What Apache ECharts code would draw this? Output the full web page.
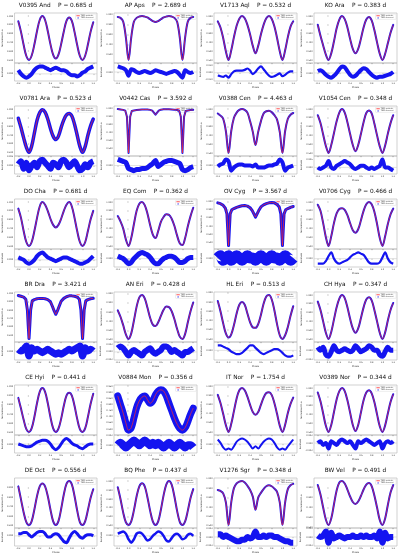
<!DOCTYPE html>
<html>
<head>
<meta charset="utf-8">
<script src="https://cdn.jsdelivr.net/npm/echarts@6/dist/echarts.min.js"></script>
<style>
html, body { margin: 0; padding: 0; background: #fff; }
#main { width: 400px; height: 559px; }
</style>
</head>
<body>
<div id="main"></div>
<script>
// phase grids
const PHASE = [-0.2,-0.15,-0.1,-0.05,0,0.05,0.1,0.15,0.2,0.25,0.3,0.35,0.4,0.45,0.5,0.55,0.6,0.65,0.7,0.75,0.8,0.85,0.9,0.95,1,1.05,1.1,1.15,1.2];
// denser around the eclipses, for the detached systems
const PHASE_ECL = [-0.2,-0.15,-0.1,-0.06,-0.03,-0.015,0,0.015,0.03,0.06,0.1,0.15,0.2,0.25,0.3,0.35,0.4,0.44,0.47,0.5,0.53,0.56,0.6,0.65,0.7,0.75,0.8,0.85,0.9,0.94,0.97,0.985,1,1.015,1.03,1.06,1.1,1.15,1.2];
const PHASE_TICKS = [-0.2,0,0.2,0.4,0.6,0.8,1.0,1.2];

const NAMES = ['V0395 And','AP Aps','V1713 Aql','KO Ara','V0781 Ara','V0442 Cas','V0388 Cen','V1054 Cen',
  'DO Cha','EQ Com','OV Cyg','V0706 Cyg','BR Dra','AN Eri','HL Eri','CH Hya',
  'CE Hyi','V0884 Mon','IT Nor','V0389 Nor','DE Oct','BQ Phe','V1276 Sgr','BW Vel'];
const PERIODS = ['0.685','2.689','0.532','0.383','0.523','3.592','4.463','0.348',
  '0.681','0.362','3.567','0.466','3.421','0.428','0.513','0.347',
  '0.441','0.356','1.754','0.344','0.556','0.437','0.348','0.491'];
const LEGEND_NAMES = ['TESS synthetic', 'TESS observed'];

// normalized flux, model curve
const FLUX_V0395_AND = [0.94,0.82,0.67,0.545,0.50,0.55,0.675,0.83,0.955,1.0,0.955,0.83,0.68,0.56,0.515,0.56,0.68,0.825,0.945,0.985,0.945,0.82,0.67,0.545,0.50,0.55,0.675,0.82,0.93];
const FLUX_AP_APS = [0.978,0.969,0.933,0.775,0.55,0.775,0.933,0.969,0.982,0.987,0.982,0.973,0.955,0.937,0.928,0.937,0.955,0.973,0.982,0.987,0.982,0.969,0.933,0.775,0.55,0.775,0.933,0.969,0.978];
const FLUX_V1713_AQL = [0.94,0.87,0.75,0.60,0.50,0.61,0.76,0.89,0.97,1.0,0.975,0.90,0.79,0.66,0.575,0.66,0.79,0.90,0.975,1.0,0.97,0.885,0.75,0.60,0.50,0.61,0.76,0.88,0.94];
const FLUX_KO_ARA = [0.90,0.775,0.665,0.56,0.50,0.575,0.71,0.86,0.96,1.0,0.965,0.87,0.74,0.625,0.575,0.625,0.74,0.87,0.96,0.99,0.95,0.84,0.70,0.57,0.50,0.57,0.69,0.81,0.90];
const FLUX_V0781_ARA = [0.90,0.79,0.67,0.56,0.50,0.575,0.725,0.875,0.965,1.0,0.97,0.89,0.78,0.69,0.65,0.69,0.79,0.88,0.94,0.955,0.925,0.83,0.70,0.57,0.50,0.57,0.70,0.81,0.89];
const FLUX_V0442_CAS = [0.995,0.99,0.985,0.975,0.90,0.68,0.45,0.68,0.90,0.972,0.978,0.982,0.986,0.989,0.99,0.99,0.985,0.975,0.95,0.925,0.95,0.975,0.988,0.992,0.993,0.993,0.991,0.988,0.983,0.975,0.90,0.68,0.45,0.68,0.90,0.972,0.978,0.982,0.986];
const FLUX_V0388_CEN = [0.95,0.925,0.89,0.75,0.50,0.75,0.90,0.96,0.99,1.0,0.99,0.96,0.86,0.74,0.59,0.74,0.86,0.95,0.975,0.98,0.965,0.93,0.88,0.74,0.50,0.75,0.89,0.935,0.955];
const FLUX_V1054_CEN = [0.93,0.84,0.71,0.58,0.50,0.59,0.725,0.86,0.96,1.0,0.96,0.85,0.715,0.59,0.52,0.59,0.715,0.85,0.955,0.985,0.95,0.835,0.70,0.575,0.50,0.585,0.72,0.84,0.93];
const FLUX_DO_CHA = [0.925,0.82,0.67,0.545,0.50,0.545,0.67,0.82,0.95,1.0,0.97,0.90,0.81,0.74,0.71,0.74,0.81,0.90,0.97,1.0,0.95,0.82,0.67,0.545,0.50,0.545,0.67,0.80,0.90];
const FLUX_EQ_COM = [0.84,0.78,0.70,0.575,0.50,0.59,0.75,0.90,0.98,1.0,0.965,0.87,0.74,0.63,0.59,0.67,0.775,0.83,0.86,0.855,0.81,0.73,0.62,0.53,0.51,0.59,0.725,0.84,0.935];
const FLUX_OV_CYG = [0.985,0.975,0.955,0.92,0.85,0.66,0.46,0.66,0.85,0.90,0.915,0.93,0.94,0.95,0.952,0.945,0.925,0.89,0.85,0.81,0.85,0.89,0.935,0.96,0.975,0.985,0.99,0.985,0.965,0.935,0.85,0.66,0.46,0.66,0.85,0.90,0.915,0.93,0.94];
const FLUX_V0706_CYG = [0.97,0.90,0.76,0.60,0.50,0.61,0.76,0.87,0.92,0.93,0.91,0.85,0.76,0.68,0.65,0.69,0.79,0.90,0.975,1.0,0.975,0.89,0.75,0.59,0.50,0.61,0.75,0.86,0.925];
const FLUX_BR_DRA = [0.975,0.965,0.955,0.93,0.80,0.62,0.46,0.62,0.80,0.91,0.925,0.935,0.94,0.94,0.935,0.925,0.90,0.84,0.79,0.75,0.79,0.84,0.905,0.94,0.96,0.97,0.97,0.965,0.955,0.93,0.80,0.62,0.46,0.62,0.80,0.91,0.925,0.935,0.94];
const FLUX_AN_ERI = [0.82,0.75,0.66,0.56,0.51,0.57,0.71,0.86,0.96,0.985,0.95,0.85,0.74,0.665,0.65,0.69,0.76,0.825,0.86,0.855,0.81,0.725,0.62,0.535,0.51,0.565,0.69,0.81,0.905];
const FLUX_HL_ERI = [0.91,0.80,0.67,0.56,0.515,0.55,0.65,0.775,0.87,0.90,0.87,0.775,0.68,0.625,0.62,0.66,0.76,0.88,0.96,0.975,0.93,0.81,0.66,0.54,0.50,0.54,0.63,0.75,0.855];
const FLUX_CH_HYA = [0.925,0.83,0.70,0.57,0.50,0.58,0.72,0.86,0.96,1.0,0.965,0.86,0.73,0.62,0.57,0.62,0.735,0.86,0.95,0.975,0.94,0.83,0.70,0.57,0.50,0.575,0.71,0.83,0.91];
const FLUX_CE_HYI = [0.875,0.76,0.64,0.54,0.51,0.55,0.67,0.82,0.94,0.98,0.94,0.82,0.67,0.55,0.51,0.545,0.65,0.79,0.90,0.93,0.90,0.79,0.65,0.54,0.51,0.55,0.67,0.81,0.92];
const FLUX_V0884_MON = [0.87,0.80,0.73,0.65,0.59,0.61,0.69,0.775,0.83,0.86,0.87,0.84,0.81,0.83,0.88,0.91,0.92,0.91,0.87,0.81,0.75,0.69,0.64,0.605,0.59,0.61,0.66,0.72,0.77];
const FLUX_IT_NOR = [0.91,0.82,0.70,0.575,0.50,0.59,0.73,0.87,0.96,0.985,0.96,0.89,0.80,0.72,0.69,0.72,0.80,0.88,0.93,0.94,0.91,0.82,0.70,0.57,0.50,0.58,0.71,0.81,0.88];
const FLUX_V0389_NOR = [0.95,0.85,0.71,0.57,0.50,0.58,0.725,0.87,0.965,1.0,0.965,0.86,0.72,0.58,0.51,0.58,0.72,0.86,0.95,0.975,0.94,0.84,0.70,0.565,0.50,0.575,0.71,0.84,0.93];
const FLUX_DE_OCT = [0.91,0.775,0.64,0.54,0.51,0.55,0.67,0.81,0.91,0.94,0.91,0.81,0.67,0.55,0.51,0.55,0.675,0.825,0.935,0.965,0.93,0.81,0.66,0.54,0.51,0.55,0.665,0.79,0.88];
const FLUX_BQ_PHE = [0.93,0.80,0.65,0.54,0.51,0.55,0.675,0.83,0.94,0.975,0.94,0.82,0.67,0.55,0.51,0.55,0.68,0.84,0.96,1.0,0.96,0.83,0.67,0.545,0.51,0.55,0.67,0.81,0.91];
const FLUX_V1276_SGR = [0.88,0.87,0.845,0.75,0.51,0.75,0.90,0.95,0.97,0.975,0.96,0.925,0.88,0.81,0.67,0.80,0.85,0.89,0.92,0.93,0.92,0.895,0.86,0.75,0.51,0.75,0.89,0.93,0.945];
const FLUX_BW_VEL = [0.925,0.83,0.70,0.58,0.525,0.59,0.73,0.87,0.95,0.965,0.94,0.88,0.81,0.755,0.735,0.76,0.815,0.88,0.93,0.945,0.915,0.82,0.70,0.575,0.525,0.59,0.725,0.85,0.925];

// residuals (observed - model), on PHASE
const RES_V0395_AND = [0.003,0.000,-0.002,-0.003,-0.002,0.000,0.003,0.005,0.006,0.006,0.005,0.004,0.003,0.004,0.005,0.004,0.003,0.003,0.002,0.000,-0.001,-0.001,-0.002,-0.001,0.001,0.002,0.004,0.005,0.006];
const RES_AP_APS = [0.003,0.0025,0.002,0.001,-0.002,0.0015,0.001,0.000,-0.0005,0.000,0.0005,0.000,-0.0005,0.000,0.001,0.0005,0.000,-0.0005,-0.001,-0.0005,0.000,0.0005,0.000,-0.0015,-0.003,0.001,0.000,-0.0005,0.000];
const RES_V1713_AQL = [-0.004,-0.005,-0.006,-0.004,-0.007,-0.002,0.002,0.003,0.003,0.003,0.004,0.006,0.003,-0.002,0.001,0.006,0.009,0.005,0.000,-0.004,-0.006,-0.005,-0.003,-0.001,-0.005,-0.003,0.000,0.002,0.002];
const RES_KO_ARA = [0.002,0.003,0.001,-0.002,-0.004,-0.005,-0.003,0.000,0.004,0.007,0.006,0.002,-0.002,-0.004,-0.003,0.000,0.003,0.005,0.004,0.001,-0.002,-0.004,-0.005,-0.004,-0.004,-0.003,-0.002,-0.001,0.001];
const RES_V0781_ARA = [0.0005,0.0015,-0.001,0.001,-0.0015,0.000,0.001,-0.0005,0.0015,0.002,0.001,0.000,-0.001,0.001,0.0005,-0.0005,0.0015,0.002,0.001,-0.0005,0.0005,0.0015,0.000,-0.0015,-0.001,0.0005,-0.0005,0.001,0.0015];
const RES_V0442_CAS = [0.006,0.005,0.004,0.003,-0.003,-0.004,-0.005,-0.004,-0.004,-0.003,-0.003,-0.002,0.000,0.002,0.005,-0.001,0.001,0.003,0.004,0.005,0.005,0.004,0.003,0.002,-0.004,-0.005,-0.004,-0.002,-0.001];
const RES_V0388_CEN = [-0.001,0.001,0.002,0.006,0.004,-0.005,-0.002,0.000,0.001,0.001,0.000,0.000,0.000,-0.001,0.001,-0.002,-0.002,-0.002,-0.001,0.000,0.000,0.001,0.002,0.006,0.003,-0.005,-0.002,-0.001,0.000];
const RES_V1054_CEN = [0.000,-0.001,0.000,0.001,0.004,0.000,-0.001,0.001,0.002,0.003,0.004,0.003,0.002,0.000,-0.001,0.000,0.001,0.001,0.000,-0.001,0.000,-0.001,0.000,0.001,0.005,0.000,0.000,-0.001,-0.002];
const RES_DO_CHA = [0.002,0.001,0.000,-0.002,-0.003,-0.002,0.000,0.003,0.005,0.006,0.004,0.002,0.001,0.000,-0.001,0.000,0.001,0.002,0.002,0.001,0.000,-0.001,-0.002,-0.003,-0.003,-0.002,-0.001,0.001,0.003];
const RES_EQ_COM = [0.002,0.001,0.000,-0.002,-0.004,-0.003,0.000,0.002,0.004,0.005,0.004,0.003,0.001,-0.002,-0.004,-0.004,-0.002,0.000,0.001,0.002,0.002,0.001,-0.001,-0.003,-0.003,-0.002,0.000,0.001,0.001];
const RES_OV_CYG = [0.000,0.0004,-0.0004,0.000,0.0004,-0.0004,0.000,0.0004,0.000,-0.0004,0.000,0.0004,0.000,0.000,-0.0004,0.000,0.0004,0.000,-0.0004,0.000,0.0004,0.000,0.000,-0.0004,0.000,0.0004,0.000,-0.0004,0.000];
const RES_V0706_CYG = [-0.004,-0.004,-0.004,-0.002,0.002,0.005,0.000,-0.003,-0.004,-0.003,-0.002,-0.001,0.001,0.003,0.004,0.005,0.004,0.003,0.000,-0.003,-0.004,-0.004,-0.004,-0.003,0.001,0.005,0.000,-0.003,-0.004];
const RES_BR_DRA = [0.0005,0.000,0.0005,0.0015,-0.0015,0.001,0.000,0.0005,0.000,-0.0005,0.000,0.0005,0.000,-0.0005,-0.001,-0.0005,-0.001,-0.0005,0.000,0.0005,0.000,0.0005,0.001,0.0015,-0.0015,0.001,0.000,0.0005,0.000];
const RES_AN_ERI = [0.001,0.0015,0.001,0.000,-0.001,0.000,0.0005,0.000,-0.0005,-0.001,0.000,0.0005,0.001,0.000,-0.0005,0.000,0.0005,0.0015,0.0015,0.001,0.000,0.0005,0.000,-0.0005,-0.001,0.000,0.000,0.0005,0.001];
const RES_HL_ERI = [0.004,0.004,0.003,0.002,0.001,-0.001,-0.002,-0.003,-0.003,-0.002,0.000,0.002,0.004,0.004,0.002,0.000,-0.002,-0.003,-0.002,-0.001,0.000,0.001,0.001,0.000,-0.002,-0.004,-0.005,-0.005,-0.004];
const RES_CH_HYA = [0.001,0.000,0.001,-0.0015,-0.002,-0.0005,0.0015,0.000,-0.0005,0.000,0.0005,0.000,-0.0005,0.000,0.0015,0.0005,-0.0005,0.000,0.0005,0.0015,0.001,0.000,0.000,-0.0015,-0.002,-0.0005,0.001,0.000,0.000];
const RES_CE_HYI = [0.000,-0.001,-0.002,-0.003,-0.003,-0.002,0.000,0.002,0.003,0.004,0.004,0.003,0.000,-0.004,-0.006,-0.004,0.000,0.004,0.006,0.004,0.001,-0.001,-0.002,-0.004,-0.005,-0.003,-0.001,0.000,0.000];
const RES_V0884_MON = [0.000,0.0005,0.000,-0.0005,0.000,0.0005,0.001,0.0005,0.000,0.0005,0.001,0.0005,0.000,0.0005,0.000,0.0005,0.000,-0.0005,0.000,0.0005,0.000,-0.0005,0.000,0.0005,0.000,-0.0005,0.000,0.000,-0.0005];
const RES_IT_NOR = [0.004,0.001,-0.003,-0.005,-0.004,-0.005,-0.002,0.002,0.004,0.005,0.004,0.002,-0.001,-0.004,-0.002,-0.004,-0.001,0.002,0.004,0.005,0.004,0.001,-0.003,-0.005,-0.004,-0.005,-0.002,0.001,0.004];
const RES_V0389_NOR = [0.000,0.0005,-0.0005,0.000,-0.0015,0.0005,0.000,-0.0005,0.0005,0.001,0.0005,0.000,0.0005,-0.0005,-0.0015,0.0005,0.000,0.0005,0.001,0.0005,0.000,-0.0005,0.000,0.0005,-0.0015,0.000,0.0005,0.000,0.0005];
const RES_DE_OCT = [0.002,0.002,0.003,0.003,0.001,-0.001,0.001,0.003,0.004,0.004,0.002,-0.001,-0.001,0.001,0.002,0.001,-0.002,-0.005,-0.006,-0.002,0.002,0.004,0.002,-0.001,-0.002,0.000,0.001,0.001,0.000];
const RES_BQ_PHE = [0.002,0.003,0.004,0.002,-0.003,-0.006,-0.003,0.002,0.003,0.002,-0.001,-0.004,-0.003,0.000,0.002,0.004,0.003,0.000,-0.004,-0.005,-0.002,0.001,0.002,0.000,-0.003,-0.002,0.001,0.002,0.000];
const RES_V1276_SGR = [0.001,0.001,0.000,0.0005,0.000,-0.0005,-0.001,-0.0015,-0.0015,-0.001,-0.001,0.000,-0.0005,0.000,0.002,0.000,0.000,0.0005,0.000,0.0005,0.0005,0.000,0.000,-0.0005,-0.001,-0.0015,-0.0015,-0.002,-0.002];
const RES_BW_VEL = [0.0005,0.000,0.0005,0.002,-0.002,0.0015,-0.0005,0.000,0.0005,0.000,-0.0005,0.000,0.000,0.0005,0.000,0.000,0.0005,0.000,0.0005,0.000,0.000,0.0005,-0.0005,0.002,-0.002,0.0015,-0.0005,0.000,0.000];

const FLUX = [FLUX_V0395_AND, FLUX_AP_APS, FLUX_V1713_AQL, FLUX_KO_ARA, FLUX_V0781_ARA, FLUX_V0442_CAS, FLUX_V0388_CEN, FLUX_V1054_CEN,
  FLUX_DO_CHA, FLUX_EQ_COM, FLUX_OV_CYG, FLUX_V0706_CYG, FLUX_BR_DRA, FLUX_AN_ERI, FLUX_HL_ERI, FLUX_CH_HYA,
  FLUX_CE_HYI, FLUX_V0884_MON, FLUX_IT_NOR, FLUX_V0389_NOR, FLUX_DE_OCT, FLUX_BQ_PHE, FLUX_V1276_SGR, FLUX_BW_VEL];
const RESID = [RES_V0395_AND, RES_AP_APS, RES_V1713_AQL, RES_KO_ARA, RES_V0781_ARA, RES_V0442_CAS, RES_V0388_CEN, RES_V1054_CEN,
  RES_DO_CHA, RES_EQ_COM, RES_OV_CYG, RES_V0706_CYG, RES_BR_DRA, RES_AN_ERI, RES_HL_ERI, RES_CH_HYA,
  RES_CE_HYI, RES_V0884_MON, RES_IT_NOR, RES_V0389_NOR, RES_DE_OCT, RES_BQ_PHE, RES_V1276_SGR, RES_BW_VEL];
const DETACHED = ['V0442 Cas', 'OV Cyg', 'BR Dra'];

// styling: scatter spread drawn as band width (px)
const OBS_W = [2,2,2,2,3.5,2,2,2, 2,2,3,2, 3,2,2,2, 2,7,2,2, 2,2,2,2];
const RES_W = [4,4,2.2,4,6,5,4,4, 4,5,11,2.2, 7,6,2.2,5, 3,8,2,4, 3,2.5,6,6];

const COL_W = 100, ROW_H = 93, PLOT_L = 14, PLOT_W = 83;
const TITLE_Y = 2.5, MAIN_T = 13, MAIN_H = 50, RES_H = 18;
const FONT = 'DejaVu Sans';
const BLUE = '#1414f0', RED = '#ff2b2b', FRAME = '#b4b4b4';

const chart = echarts.init(document.getElementById('main'), null, { renderer: 'canvas' });

const grid = [], xAxis = [], yAxis = [], series = [], title = [], graphic = [];

const tickStyle = { length: 1.2, lineStyle: { color: '#444', width: 0.4 } };
const labelStyle = { fontSize: 2.2, color: '#333', fontFamily: FONT, margin: 1.4 };

NAMES.forEach((name, k) => {
  const c = k % 4, r = Math.floor(k / 4);
  const left = c * COL_W + PLOT_L;
  const top = r * ROW_H + MAIN_T;
  const gi = 2 * k;
  const ph = DETACHED.includes(name) ? PHASE_ECL : PHASE;
  const obsPad = OBS_W[k] / 100;

  grid.push({ left: left, top: top, width: PLOT_W, height: MAIN_H, show: true, borderColor: FRAME, borderWidth: 0.6 });
  grid.push({ left: left, top: top + MAIN_H, width: PLOT_W, height: RES_H, show: true, borderColor: FRAME, borderWidth: 0.6 });

  [0, 1].forEach(j => {
    xAxis.push({
      type: 'value', gridIndex: gi + j, min: -0.27, max: 1.27,
      axisLine: { show: false }, splitLine: { show: false },
      axisTick: Object.assign({ customValues: PHASE_TICKS }, tickStyle),
      axisLabel: Object.assign({ show: j === 1, customValues: PHASE_TICKS, formatter: v => v.toFixed(1) }, labelStyle),
      name: j === 1 ? 'Phase' : '', nameLocation: 'middle', nameGap: 5.2,
      nameTextStyle: { fontSize: 2.4, color: '#333', fontFamily: FONT }
    });
  });

  yAxis.push({
    type: 'value', gridIndex: gi, splitNumber: 7,
    min: v => v.min - (v.max - v.min) * (0.05 + obsPad),
    max: v => v.max + (v.max - v.min) * (0.05 + obsPad),
    axisLine: { show: false }, splitLine: { show: false },
    axisTick: tickStyle,
    axisLabel: Object.assign({ formatter: v => v.toFixed(3), showMinLabel: false, showMaxLabel: false }, labelStyle),
    name: 'Normalized Flux', nameLocation: 'middle', nameGap: 9.5,
    nameTextStyle: { fontSize: 2.2, color: '#333', fontFamily: FONT }
  });
  yAxis.push({
    type: 'value', gridIndex: gi + 1, splitNumber: 2,
    min: v => v.min - Math.max(v.max - v.min, 0.004) * 0.3,
    max: v => v.max + Math.max(v.max - v.min, 0.004) * 0.3,
    axisLine: { show: false }, splitLine: { show: false },
    axisTick: tickStyle,
    axisLabel: Object.assign({ formatter: v => v.toFixed(3), showMinLabel: false, showMaxLabel: false }, labelStyle),
    name: 'Residuals', nameLocation: 'middle', nameGap: 9.5,
    nameTextStyle: { fontSize: 2.2, color: '#333', fontFamily: FONT }
  });

  const pts = ph.map((p, i) => [p, FLUX[k][i]]);
  const smooth = ph === PHASE ? 0.35 : false;
  series.push({
    type: 'line', name: LEGEND_NAMES[1], xAxisIndex: gi, yAxisIndex: gi, data: pts,
    showSymbol: false, smooth: smooth, silent: true, z: 2,
    lineStyle: { color: BLUE, width: OBS_W[k], cap: 'round', join: 'round' }
  });
  series.push({
    type: 'line', name: LEGEND_NAMES[0], xAxisIndex: gi, yAxisIndex: gi, data: pts,
    showSymbol: false, smooth: smooth, silent: true, z: 3,
    lineStyle: { color: RED, width: 0.7 }
  });
  series.push({
    type: 'line', xAxisIndex: gi + 1, yAxisIndex: gi + 1, data: [[-0.27, 0], [1.27, 0]],
    showSymbol: false, silent: true, z: 1, lineStyle: { color: '#cfcfcf', width: 0.6 }
  });
  series.push({
    type: 'line', xAxisIndex: gi + 1, yAxisIndex: gi + 1, data: PHASE.map((p, i) => [p, RESID[k][i]]),
    showSymbol: false, smooth: 0.3, silent: true, z: 2,
    lineStyle: { color: BLUE, width: RES_W[k], cap: 'butt', join: 'round' }
  });

  title.push({
    text: name + '    P = ' + PERIODS[k] + ' d',
    left: left + PLOT_W / 2, top: r * ROW_H + TITLE_Y, textAlign: 'center', padding: 0,
    textStyle: { fontSize: 5.8, fontWeight: 'normal', color: '#111', fontFamily: FONT }
  });

  // small matplotlib-style legend box in the upper right corner
  graphic.push({
    type: 'group', x: left + PLOT_W - 21.5, y: top + 1.2, z: 100, silent: true,
    children: [
      { type: 'rect', shape: { x: 0, y: 0, width: 20.5, height: 5.2, r: 0.6 },
        style: { fill: 'rgba(255,255,255,0.85)', stroke: '#d4d4d4', lineWidth: 0.4 } },
      { type: 'line', shape: { x1: 0.9, y1: 1.55, x2: 4.3, y2: 1.55 }, style: { stroke: RED, lineWidth: 0.8 } },
      { type: 'circle', shape: { cx: 2.6, cy: 3.7, r: 0.6 }, style: { fill: BLUE } },
      { type: 'text', x: 5.2, y: 1.55, style: { text: LEGEND_NAMES[0], fontSize: 1.7, fontFamily: FONT, fill: '#333', verticalAlign: 'middle' } },
      { type: 'text', x: 5.2, y: 3.7, style: { text: LEGEND_NAMES[1], fontSize: 1.7, fontFamily: FONT, fill: '#333', verticalAlign: 'middle' } }
    ]
  });
});

chart.setOption({
  animation: false,
  backgroundColor: '#fff',
  title: title,
  grid: grid,
  xAxis: xAxis,
  yAxis: yAxis,
  series: series,
  graphic: graphic
});
</script>
</body>
</html>
